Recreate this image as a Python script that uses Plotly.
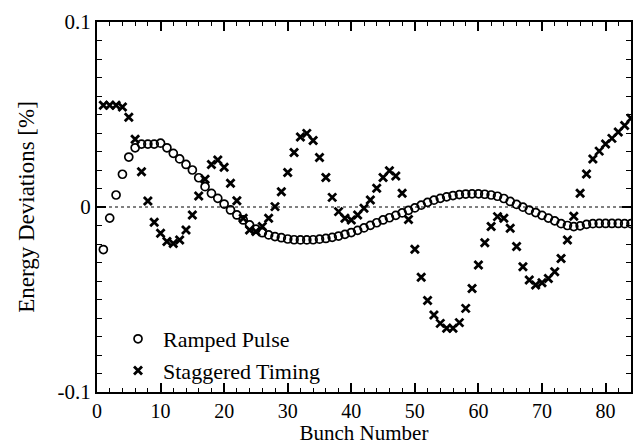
import plotly.graph_objects as go

bunch = list(range(1, 85))

ramped_pulse = [
    -0.023, -0.006, 0.0065, 0.0177, 0.027, 0.032, 0.034, 0.034, 0.034, 0.0345,
    0.032, 0.029, 0.026, 0.023, 0.020, 0.0158, 0.011, 0.0074, 0.0047, 0.0016,
    -0.0016, -0.0043, -0.007, -0.0097, -0.012, -0.0139, -0.0151, -0.016, -0.0166, -0.0173,
    -0.0177, -0.0178, -0.0178, -0.0177, -0.0174, -0.017, -0.0164, -0.0157, -0.0148, -0.0138,
    -0.0126, -0.0113, -0.0099, -0.0085, -0.007, -0.0058, -0.0045, -0.0032, -0.0018, -0.0005,
    0.001, 0.0025, 0.0037, 0.0047, 0.0055, 0.0062, 0.0067, 0.007, 0.0071, 0.0071,
    0.0069, 0.0065, 0.0058, 0.0046, 0.0030, 0.0014, -0.0001, -0.0017, -0.003, -0.0045,
    -0.006, -0.0075, -0.009, -0.0100, -0.0106, -0.0102, -0.0094, -0.0090, -0.0089, -0.0089,
    -0.0089, -0.0089, -0.009, -0.009,
]

staggered_timing = [
    0.055, 0.055, 0.055, 0.054, 0.0485, 0.0366, 0.019, 0.0032, -0.0083, -0.0142,
    -0.0187, -0.0197, -0.0178, -0.0124, -0.0043, 0.006, 0.015, 0.023, 0.0254, 0.0215,
    0.0128, 0.0034, -0.0061, -0.0124, -0.0133, -0.0106, -0.0061, 0.0002, 0.0083, 0.0186,
    0.0294, 0.0378, 0.0398, 0.0359, 0.0267, 0.016, 0.0052, -0.0025, -0.0061, -0.007,
    -0.0043, -0.0007, 0.0038, 0.0101, 0.016, 0.0196, 0.0168, 0.0074, -0.0068, -0.0228,
    -0.038, -0.0506, -0.0584, -0.0629, -0.0656, -0.0656, -0.0625, -0.0548, -0.044, -0.0314,
    -0.0193, -0.0106, -0.0052, -0.0061, -0.0115, -0.0214, -0.0323, -0.0395, -0.0422, -0.0409,
    -0.0386, -0.035, -0.0278, -0.0178, -0.005, 0.0074, 0.0178, 0.026, 0.0302, 0.034,
    0.0371, 0.0405, 0.0440, 0.048,
]

x_ticks = [0, 10, 20, 30, 40, 50, 60, 70, 80]
y_tickvals = [-0.1, 0, 0.1]
y_ticktext = ["-0.1", "0", "0.1"]

FONT = "Liberation Serif"

fig = go.Figure()
fig.add_trace(go.Scatter(
    x=bunch, y=ramped_pulse, mode="markers", name="Ramped Pulse",
    marker=dict(symbol="circle-open", size=8, color="black", line=dict(width=1.7, color="black")),
))
fig.add_trace(go.Scatter(
    x=bunch, y=staggered_timing, mode="markers", name="Staggered Timing",
    marker=dict(symbol="x-thin", size=8, color="black", line=dict(width=2.8, color="black")),
))

fig.add_hline(y=0, line=dict(color="black", width=1, dash="dot"))

axis_common = dict(
    showline=True, linewidth=2, linecolor="black", mirror="ticks",
    ticks="inside", tickcolor="black", tickwidth=1.5,
    showgrid=False, zeroline=False,
)

fig.update_xaxes(
    range=[0, 84], tickvals=x_ticks, ticklen=9,
    tickfont=dict(family=FONT, size=20, color="black"),
    minor=dict(dtick=2, ticks="inside", ticklen=4, tickcolor="black", tickwidth=1.2, showgrid=False),
    title=dict(text="Bunch Number", font=dict(family=FONT, size=21, color="black"), standoff=0),
    **axis_common,
)
fig.update_yaxes(
    range=[-0.1, 0.1], tickvals=y_tickvals, ticktext=y_ticktext, ticklen=9,
    tickfont=dict(family=FONT, size=21, color="black"),
    minor=dict(dtick=0.01, tick0=0, ticks="inside", ticklen=5, tickcolor="black", tickwidth=1.2, showgrid=False),
    title=dict(text="Energy Deviations [%]", font=dict(family=FONT, size=23, color="black"), standoff=16),
    **axis_common,
)

fig.update_layout(
    width=634, height=445,
    margin=dict(l=97, r=1, t=22, b=53),
    paper_bgcolor="white", plot_bgcolor="white",
    font=dict(family=FONT, size=21, color="black"),
    showlegend=True,
    legend=dict(
        x=0.03, y=0.0, xanchor="left", yanchor="bottom",
        bgcolor="rgba(0,0,0,0)", borderwidth=0,
        font=dict(family=FONT, size=22, color="black"),
        itemwidth=40, tracegroupgap=0,
    ),
)

fig.write_html("out.html")
